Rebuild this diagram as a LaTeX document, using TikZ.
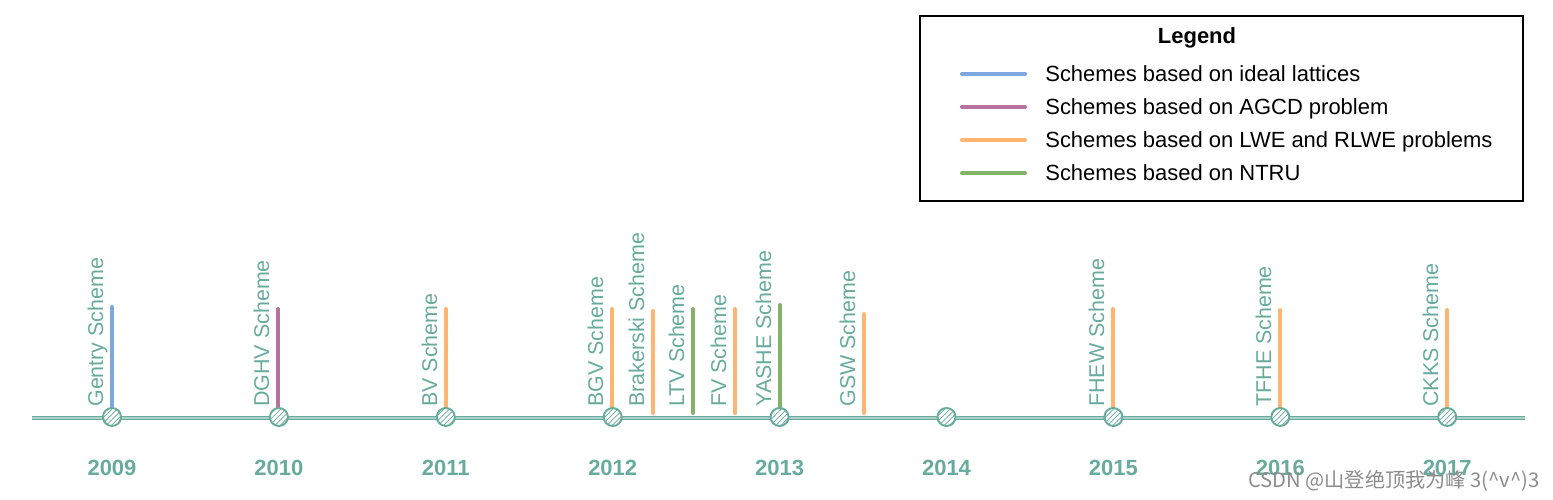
\documentclass[tikz,border=0pt]{standalone}
\usepackage{fontspec}
\setmainfont{Liberation Sans}
\newfontfamily\cjkfont{Noto Sans CJK SC}
\usetikzlibrary{patterns}
\definecolor{tlteal}{HTML}{67AB9F}
\definecolor{tlblue}{HTML}{7EA6E0}
\definecolor{tlpurple}{HTML}{B5739D}
\definecolor{tlorange}{HTML}{FFB570}
\definecolor{tlgreen}{HTML}{82B366}
\tikzset{
  tlyear/.style={circle, draw=tlteal, line width=1.1pt, minimum size=0.36cm,
                 inner sep=0pt, preaction={fill=white},
                 pattern=north east lines, pattern color=tlteal},
  tlyearlabel/.style={text=tlteal, font=\fontsize{12.5}{14}\selectfont\bfseries},
  tlschemelabel/.style={rotate=90, anchor=base west, inner sep=0pt, text=tlteal,
                        font=\fontsize{12.2}{14}\selectfont},
  tlstick/.style={line width=2.3pt, line cap=round},
  tlaxis/.style={draw=tlteal, line width=0.6pt, double=tlteal!55,
                 double distance=0.6pt},
  tlnote/.style={anchor=base west, inner sep=0pt, font=\fontsize{12.5}{14}\selectfont}
}
\begin{document}
\begin{tikzpicture}[
    x=0.02cm, y=-0.02cm,
    % the key of the four families, boxed in the upper right corner
    legendbox/.style={draw, line width=0.8pt, minimum width=12.06cm,
                      minimum height=3.7cm, inner sep=0pt},
    legendtitle/.style={font=\fontsize{12.5}{14}\selectfont\bfseries},
    keyline/.style={tlstick},
    watermark/.style={anchor=east, inner sep=0pt, text=black!45,
                      font=\cjkfont\fontsize{11.5}{13}\selectfont}
]
  \useasboundingbox (0,0) rectangle (1553,500);
  % The time axis.
  \coordinate (axisl) at (32,418);
  \coordinate (axisr) at (1525,418);
  \draw[tlaxis] (axisl) -- (axisr);
  % One stick per scheme, standing on the axis, its name written upwards.
  \foreach \x/\top/\col/\txt [count=\n] in {
      112/307/tlblue/Gentry, 278/309/tlpurple/DGHV, 446/309/tlorange/BV,
      612/309/tlorange/BGV, 653/311/tlorange/Brakerski, 693/309/tlgreen/LTV,
      735/309/tlorange/FV, 780/305/tlgreen/YASHE, 864/314/tlorange/GSW,
      1113/309/tlorange/FHEW, 1280/310/tlorange/TFHE, 1447/310/tlorange/CKKS} {
    \coordinate (base\n) at (\x,413);
    \coordinate (top\n) at (\x,\top);
    \draw[tlstick, draw=\col] (base\n) -- (top\n);
    \node[tlschemelabel] (name\n) at (\x-9,407) {\txt\ Scheme};
  }
  % The years, one hatched dot each.
  \foreach \yr [count=\i from 0] in {2009,...,2017} {
    \node[tlyear] (y\yr) at ({112+166.9*\i},417) {};
    \node[tlyearlabel] (l\yr) at ({112+166.9*\i},468) {\yr};
  }
  % Legend.
  \node[legendbox] (legend) at (1221.5,108.5) {};
  \node[legendtitle] (ltitle) at (1197,38) {Legend};
  \foreach \y/\col/\txt [count=\k] in {
      74/tlblue/Schemes based on ideal lattices,
      107/tlpurple/Schemes based on AGCD problem,
      140/tlorange/Schemes based on LWE and RLWE problems,
      173/tlgreen/Schemes based on NTRU} {
    \coordinate (ka\k) at (962,\y);
    \coordinate (kb\k) at (1025,\y);
    \draw[keyline, draw=\col] (ka\k) -- (kb\k);
    \node[tlnote] (lt\k) at (1045,\y+8) {\txt};
  }
  \node[watermark] (wm) at (1540,481)
    {CSDN @山登绝顶我为峰 3(\textasciicircum v\textasciicircum)3};
\end{tikzpicture}
\end{document}
